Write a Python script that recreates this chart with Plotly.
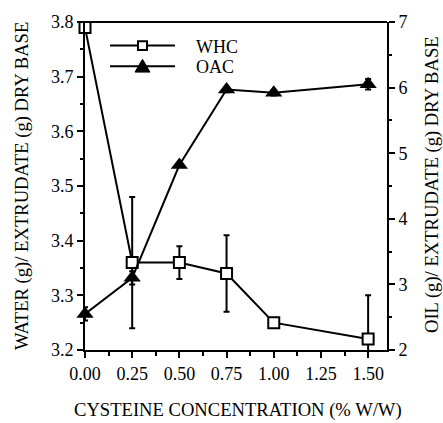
import plotly.graph_objects as go

conc = [0.0, 0.25, 0.5, 0.75, 1.0, 1.5]
whc = [3.79, 3.36, 3.36, 3.34, 3.25, 3.22]
whc_err = [0.0, 0.12, 0.03, 0.07, 0.005, 0.08]
oac = [2.55, 3.10, 4.82, 5.97, 5.92, 6.05]
oac_err = [0.10, 0.10, 0.0, 0.04, 0.04, 0.08]

x_ticks = [0.0, 0.25, 0.5, 0.75, 1.0, 1.25, 1.5]
x_ticklabels = ["0.00", "0.25", "0.50", "0.75", "1.00", "1.25", "1.50"]
left_ticks = [3.2, 3.3, 3.4, 3.5, 3.6, 3.7, 3.8]
right_ticks = [2, 3, 4, 5, 6, 7]

FONT = "Times New Roman, Liberation Serif, DejaVu Serif, serif"
BLACK = "black"

fig = go.Figure()

fig.add_trace(go.Scatter(
    x=conc, y=oac, yaxis="y2", mode="lines+markers", name="OAC",
    line=dict(color=BLACK, width=2),
    marker=dict(symbol="triangle-up", size=15, color=BLACK),
    error_y=dict(type="data", array=oac_err, color=BLACK, thickness=2, width=3),
    cliponaxis=False,
))
fig.add_trace(go.Scatter(
    x=conc, y=whc, mode="lines+markers", name="WHC",
    line=dict(color=BLACK, width=2),
    marker=dict(symbol="square", size=11, color="white", line=dict(color=BLACK, width=2)),
    error_y=dict(type="data", array=whc_err, color=BLACK, thickness=2, width=3),
    cliponaxis=False,
))

# plot area in pixels
L, R, T, B = 85, 387, 16, 350
W, H = R - L, B - T

def px(xp):
    return (xp - L) / W

def py(yp):
    return (B - yp) / H

shapes = []
shapes.append(dict(type="line", xref="paper", yref="paper", x0=0, x1=1, y0=1, y1=1,
                   line=dict(color=BLACK, width=2)))
for yl in (40, 61):
    shapes.append(dict(type="line", xref="paper", yref="paper",
                       x0=px(110), x1=px(175), y0=py(yl), y1=py(yl),
                       line=dict(color=BLACK, width=2)))
shapes.append(dict(type="rect", xref="paper", yref="paper",
                   x0=px(138), x1=px(147), y0=py(44.5), y1=py(35.5),
                   fillcolor="white", line=dict(color=BLACK, width=2)))
shapes.append(dict(type="path", xref="paper", yref="paper",
                   path=f"M {px(135)},{py(67)} L {px(150)},{py(67)} L {px(142.5)},{py(54)} Z",
                   fillcolor=BLACK, line=dict(color=BLACK, width=1)))

TITLE_SIZE = 18.6
annotations = [
    dict(text="WHC", xref="paper", yref="paper", x=px(194), y=py(41), xanchor="left",
         yanchor="middle", showarrow=False, font=dict(family=FONT, size=18, color=BLACK)),
    dict(text="OAC", xref="paper", yref="paper", x=px(194), y=py(62), xanchor="left",
         yanchor="middle", showarrow=False, font=dict(family=FONT, size=18, color=BLACK)),
    dict(text="WATER (g)/ EXTRUDATE (g) DRY BASE", xref="paper", yref="paper",
         x=px(22), y=py(183), textangle=-90, showarrow=False, xanchor="center", yanchor="middle",
         font=dict(family=FONT, size=TITLE_SIZE, color=BLACK)),
    dict(text="OIL (g)/ EXTRUDATE (g) DRY BASE", xref="paper", yref="paper",
         x=px(432), y=py(182), textangle=-90, showarrow=False, xanchor="center", yanchor="middle",
         font=dict(family=FONT, size=TITLE_SIZE, color=BLACK)),
    dict(text="CYSTEINE CONCENTRATION (% W/W)", xref="paper", yref="paper",
         x=px(238), y=py(411), showarrow=False, xanchor="center", yanchor="middle",
         font=dict(family=FONT, size=TITLE_SIZE, color=BLACK)),
]

axis_common = dict(
    showgrid=False, zeroline=False, showline=True, linecolor=BLACK, linewidth=2,
    ticks="outside", ticklen=6, tickwidth=2, tickcolor=BLACK,
    tickfont=dict(family=FONT, size=18, color=BLACK),
)

fig.update_layout(
    width=443, height=423,
    margin=dict(l=L, r=443 - R, t=T, b=423 - B),
    paper_bgcolor="white", plot_bgcolor="white",
    showlegend=False,
    font=dict(family=FONT, size=18, color=BLACK),
    xaxis=dict(
        range=[0, 1.6], tickvals=x_ticks, ticktext=x_ticklabels,
        minor=dict(dtick=0.125, tick0=0, ticks="outside", ticklen=4, tickwidth=2, tickcolor=BLACK),
        **axis_common,
    ),
    yaxis=dict(
        range=[3.2, 3.8], tickvals=left_ticks,
        minor=dict(dtick=0.05, tick0=3.2, ticks="outside", ticklen=3, tickwidth=2, tickcolor=BLACK),
        **axis_common,
    ),
    yaxis2=dict(
        range=[2, 7], tickvals=right_ticks, overlaying="y", side="right",
        minor=dict(dtick=0.5, tick0=2, ticks="outside", ticklen=3, tickwidth=2, tickcolor=BLACK),
        **axis_common,
    ),
    shapes=shapes,
    annotations=annotations,
)

fig.write_html("out.html")
